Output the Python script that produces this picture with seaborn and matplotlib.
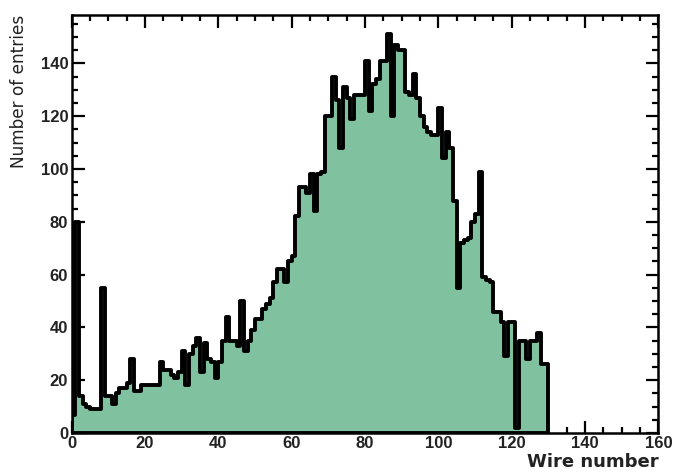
import numpy as np
import pandas as pd
import matplotlib
matplotlib.use("Agg")
import matplotlib.pyplot as plt
import seaborn as sns
from matplotlib.ticker import MultipleLocator

# ---- data ----
wire_edges = list(range(0, 131))          # 1-unit wide bins, wires 0..129
counts = [
    7, 80, 14, 11, 10, 9, 9, 9, 55, 14,           # 0-9
    14, 11, 15, 17, 17, 19, 28, 16, 16, 18,       # 10-19
    18, 18, 18, 18, 27, 24, 24, 22, 21, 23,       # 20-29
    31, 18, 30, 33, 36, 23, 34, 28, 27, 21,       # 30-39
    27, 35, 44, 35, 35, 33, 50, 31, 35, 39,       # 40-49
    43, 43, 47, 49, 51, 57, 62, 62, 57, 65,       # 50-59
    67, 82, 93, 93, 91, 98, 84, 98, 99, 120,      # 60-69
    120, 135, 126, 108, 131, 127, 119, 128, 128, 128,  # 70-79
    141, 122, 132, 134, 141, 141, 151, 120, 147, 145,  # 80-89
    145, 129, 128, 136, 127, 120, 116, 114, 113, 113,  # 90-99
    123, 104, 114, 108, 88, 55, 72, 73, 74, 80,   # 100-109
    83, 99, 59, 58, 57, 46, 46, 42, 29, 42,       # 110-119
    42, 2, 35, 35, 28, 35, 35, 38, 26, 26,        # 120-129
]
wires = [e + 0.5 for e in wire_edges[:-1]]
x_ticks = [0, 20, 40, 60, 80, 100, 120, 140, 160]
y_ticks = [0, 20, 40, 60, 80, 100, 120, 140]
x_label = "Wire number"
y_label = "Number of entries"

df = pd.DataFrame({"wire": wires, "entries": counts})

sns.set_style("ticks")
plt.rcParams["font.family"] = ["Liberation Sans", "DejaVu Sans"]

fig = plt.figure(figsize=(6.82, 4.72), dpi=100)
ax = fig.add_axes([0.1051, 0.0826, 0.8603, 0.8856])

sns.histplot(data=df, x="wire", weights="entries", bins=wire_edges,
             element="step", fill=True, color="#80c1a0", alpha=1.0,
             edgecolor="black", linewidth=2.8, ax=ax)

ax.set_xlim(0, 160)
ax.set_ylim(0, 158.3)
ax.set_xticks(x_ticks)
ax.set_yticks(y_ticks)
ax.xaxis.set_minor_locator(MultipleLocator(5))
ax.yaxis.set_minor_locator(MultipleLocator(5))
ax.tick_params(which="both", direction="in", top=True, right=True,
               width=1.6, color="black")
ax.tick_params(which="major", length=9, labelsize=12, pad=2.5)
ax.tick_params(which="minor", length=4.5)
for lab in ax.get_xticklabels() + ax.get_yticklabels():
    lab.set_fontweight("bold")
    lab.set_color("#222222")
for sp in ax.spines.values():
    sp.set_linewidth(1.8)
    sp.set_color("black")

ax.set_xlabel("")
ax.set_ylabel("")
fig.text(0.9654, 0.003, x_label, ha="right", va="bottom",
         fontsize=13, fontweight="bold", family="DejaVu Sans", color="#222222")
fig.text(0.028, 0.968, y_label, ha="center", va="top", rotation=90,
         fontsize=12.2, family="DejaVu Sans", color="#222222")

fig.savefig("out.png", dpi=100)
